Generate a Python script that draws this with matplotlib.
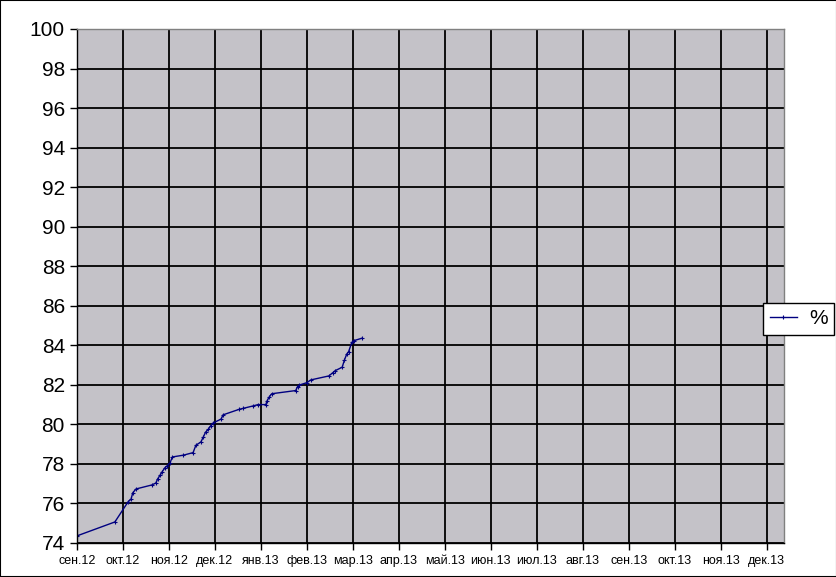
import numpy as np
import matplotlib.pyplot as plt
from matplotlib.patches import Rectangle

# x = months since sep 2012 (fractional), y = percent
months = [0.00, 0.83, 1.12, 1.18, 1.22, 1.29, 1.63, 1.72, 1.76, 1.81, 1.86, 1.92,
          1.97, 2.03, 2.08, 2.32, 2.53, 2.59, 2.70, 2.75, 2.80, 2.86, 2.91, 2.96,
          3.14, 3.18, 3.53, 3.62, 3.83, 3.94, 4.11, 4.14, 4.18, 4.24, 4.76, 4.80,
          4.84, 5.00, 5.09, 5.48, 5.57, 5.62, 5.77, 5.82, 5.87, 5.91, 5.98, 6.03,
          6.20]
values = [74.34, 75.05, 76.08, 76.20, 76.53, 76.72, 76.92, 77.02, 77.23, 77.41,
          77.60, 77.80, 77.90, 78.05, 78.34, 78.43, 78.56, 78.93, 79.10, 79.34,
          79.59, 79.74, 79.91, 80.05, 80.26, 80.47, 80.75, 80.80, 80.92, 80.99,
          80.99, 81.19, 81.36, 81.54, 81.70, 81.90, 81.98, 82.10, 82.24, 82.44,
          82.61, 82.71, 82.88, 83.25, 83.55, 83.67, 84.14, 84.23, 84.35]
month_labels = ['сен.12', 'окт.12', 'ноя.12', 'дек.12', 'янв.13', 'фев.13',
                'мар.13', 'апр.13', 'май.13', 'июн.13', 'июл.13', 'авг.13',
                'сен.13', 'окт.13', 'ноя.13', 'дек.13']

plt.rcParams['font.family'] = ['Liberation Sans', 'DejaVu Sans']

fig = plt.figure(figsize=(8.37, 5.77), dpi=100)
W, H = 837, 577
ax = fig.add_axes([76.7 / W, (H - 542.7) / H, (784.3 - 76.7) / W, (542.7 - 29) / H])

ax.set_facecolor('#c4c2c8')
ax.plot(months, values, color='#000080', linewidth=1, marker='+',
        markersize=3, markeredgewidth=0.8, label='%')

ax.set_xlim(0, 15.38)
ax.set_ylim(74, 100)
ax.set_xticks(np.arange(len(month_labels)))
ax.set_xticklabels(month_labels, fontsize=9)
ax.set_yticks(np.arange(74, 101, 2))
ax.tick_params(axis='y', labelsize=15, length=5, width=1, direction='out')
ax.tick_params(axis='x', length=5, width=1, direction='out', pad=4)
ax.grid(True, color='black', linewidth=1.3)
ax.set_axisbelow(True)

for side in ['top', 'right']:
    ax.spines[side].set_color('#808080')
    ax.spines[side].set_linewidth(1)
for side in ['left', 'bottom']:
    ax.spines[side].set_color('black')
    ax.spines[side].set_linewidth(1)

leg = fig.legend(loc='center right', bbox_to_anchor=(834 / W, 1 - 319 / H), fontsize=15,
                 frameon=True, fancybox=False, edgecolor='black', framealpha=1,
                 facecolor='white', handlelength=1.3, borderpad=0.3,
                 handletextpad=0.6, borderaxespad=0)
leg.get_frame().set_linewidth(1)

fig.patches.append(Rectangle((0, 0), 1, 1, transform=fig.transFigure, fill=False,
                             edgecolor='black', linewidth=1.5))

fig.savefig('out.png', dpi=100)
